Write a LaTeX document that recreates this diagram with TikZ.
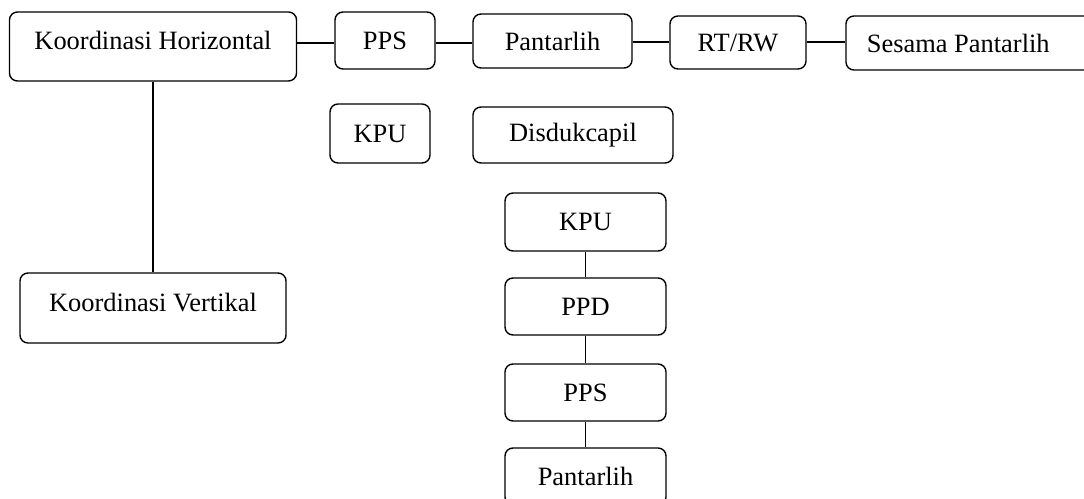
\documentclass[tikz,border=0pt]{standalone}
\usepackage{fontspec}
\setmainfont{Liberation Serif}
\usepackage{tikz}

\tikzset{
	kotak/.style={draw, line width=1pt, rounded corners=0.2cm, align=center,
		font=\fontsize{18.8}{22}\selectfont, inner sep=0pt},
	garis/.style={line width=1pt}
}

\begin{document}
\begin{tikzpicture}[x=0.025cm, y=-0.025cm]
	\useasboundingbox (0,0) rectangle (1084,499);
	\clip (0,0) rectangle (1084,499);

	\node[kotak, minimum width=7.175cm, minimum height=1.725cm, text depth=8.5pt] (hor) at (153,46.5) {Koordinasi Horizontal};
	\node[kotak, minimum width=2.5cm, minimum height=1.425cm] (pps1) at (385,40.5) {PPS};
	\node[kotak, minimum width=3.975cm, minimum height=1.35cm] (pan1) at (552.5,41) {Pantarlih};
	\node[kotak, minimum width=3.4cm, minimum height=1.325cm] (rtrw) at (738,42.5) {RT/RW};
	\node[kotak, minimum width=6.35cm, minimum height=1.35cm] (sesama) at (973,43) {\hspace*{-21pt}Sesama Pantarlih};

	\node[kotak, minimum width=2.5cm, minimum height=1.475cm] (kpu1) at (380,133.5) {KPU};
	\node[kotak, minimum width=5cm, minimum height=1.4cm] (dis) at (573,135) {Disdukcapil};

	\node[kotak, minimum width=6.65cm, minimum height=1.75cm, text depth=8.5pt] (ver) at (153,308) {Koordinasi Vertikal};

	\node[kotak, minimum width=4.025cm, minimum height=1.45cm] (kpu2) at (585.5,222) {KPU};
	\node[kotak, minimum width=4.025cm, minimum height=1.425cm] (ppd) at (585.5,306.5) {PPD};
	\node[kotak, minimum width=4.025cm, minimum height=1.425cm] (pps2) at (585.5,392.5) {PPS};
	\node[kotak, minimum width=4.025cm, minimum height=1.425cm] (pan2) at (585.5,476.5) {Pantarlih};

	\draw[garis] (hor.east |- 0,43) -- (pps1.west |- 0,43);
	\draw[garis] (pps1.east |- 0,43) -- (pan1.west |- 0,43);
	\draw[garis] (pan1.east |- 0,42) -- (rtrw.west |- 0,42);
	\draw[garis] (rtrw.east |- 0,42) -- (sesama.west |- 0,42);

	\draw[garis] (hor.south) -- (ver.north);

	\draw[garis] (kpu2.south) -- (ppd.north);
	\draw[garis] (ppd.south) -- (pps2.north);
	\draw[garis] (pps2.south) -- (pan2.north);
\end{tikzpicture}
\end{document}
